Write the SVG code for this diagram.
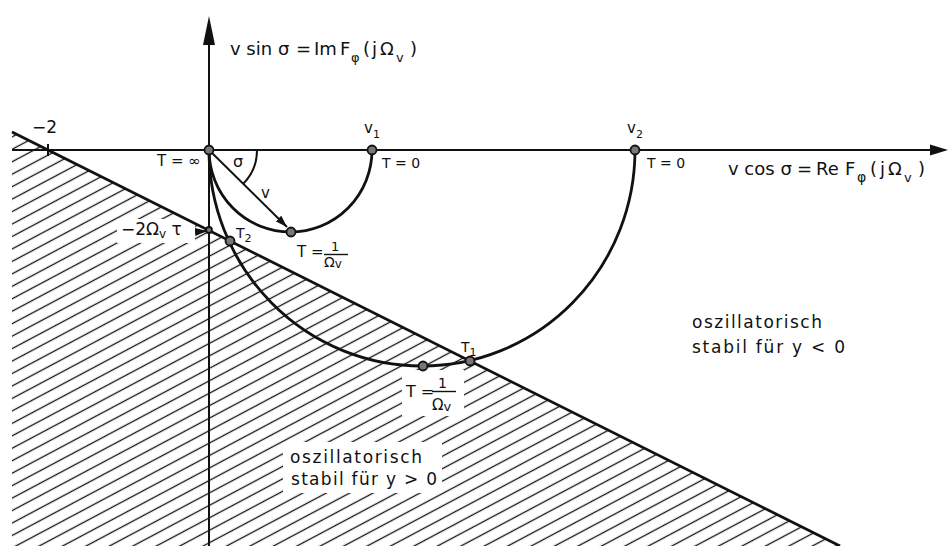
<svg xmlns="http://www.w3.org/2000/svg" width="949" height="546" viewBox="0 0 949 546">
<style>
.t{font-family:"DejaVu Sans","Liberation Sans",sans-serif;fill:#111}
.ax{stroke:#111;stroke-width:2;fill:none}
.cv{stroke:#111;stroke-width:2.8;fill:none}
.pt{fill:#777;stroke:#111;stroke-width:1.8}
.ko{fill:#fff;stroke:none}
</style>
<defs>
<pattern id="hatch" patternUnits="userSpaceOnUse" width="12" height="11" patternTransform="rotate(-28)">
<line x1="0" y1="5.5" x2="12" y2="5.5" stroke="#111" stroke-width="1.3"/>
</pattern>
<marker id="ah" viewBox="0 0 12 8" refX="12" refY="4" markerWidth="12" markerHeight="8" markerUnits="userSpaceOnUse" orient="auto">
<path d="M0,0 L12,4 L0,8 Z" fill="#111"/>
</marker>
</defs>
<rect width="949" height="546" fill="#fff"/>

<g id="unstable-region">
<polygon points="12,132 840,546 12,546" fill="url(#hatch)"/>
<rect class="ko" x="117" y="219" width="78" height="24"/>
<rect class="ko" x="402" y="370" width="62" height="46"/>
<rect class="ko" x="283" y="442" width="159" height="51"/>
</g>

<g id="axes">
<line class="ax" x1="12" y1="150" x2="934" y2="150"/>
<path d="M930,144.5 L948,150 L930,155.5 Z" fill="#111"/>
<line class="ax" x1="209" y1="546" x2="209" y2="40"/>
<path d="M203,45 L209,16 L215,45 Z" fill="#111"/>
<line class="ax" x1="48" y1="144" x2="48" y2="156"/>
</g>

<g id="connectors">
<line id="boundary" class="cv" x1="12" y1="132" x2="840" y2="546"/>
<path id="curve-v1" class="cv" d="M209,150 A81.5,82 0 0,0 372,150"/>
<path id="curve-v2" class="cv" d="M209,150 A213,216 0 0,0 635,150"/>
<line id="vector-v" x1="209" y1="150" x2="287" y2="227" stroke="#111" stroke-width="2" marker-end="url(#ah)"/>
<path id="angle-sigma" d="M257,150 A48,48 0 0,1 243,184" stroke="#111" stroke-width="2" fill="none"/>
<line id="arrow-2Ot" x1="195" y1="232" x2="207" y2="231" stroke="#111" stroke-width="1.8" marker-end="url(#ah)"/>
</g>

<g id="points">
<circle id="p-origin" class="pt" cx="209" cy="150" r="4.5"/>
<circle id="p-v1" class="pt" cx="372" cy="150" r="4.5"/>
<circle id="p-v2" class="pt" cx="635" cy="150" r="4.5"/>
<circle id="p-small-min" class="pt" cx="291" cy="232" r="4.5"/>
<circle id="p-T2" class="pt" cx="230" cy="241" r="4.5"/>
<circle id="p-T1" class="pt" cx="470" cy="361" r="4.5"/>
<circle id="p-big-min" class="pt" cx="423" cy="366" r="4.5"/>
<circle id="p-2Ot" class="pt" cx="209" cy="230" r="3"/>
</g>

<g id="label-imag-axis">
<text class="t" font-size="18"><tspan x="230" y="55">v sin σ</tspan><tspan x="296" y="55">=</tspan><tspan x="314" y="55">Im</tspan><tspan x="340" y="55">F</tspan><tspan x="351" y="62" font-size="13">φ</tspan><tspan x="363" y="55">(</tspan><tspan x="372" y="55">j</tspan><tspan x="380" y="55">Ω</tspan><tspan x="396" y="62" font-size="13">v</tspan><tspan x="410" y="55">)</tspan></text>
</g>
<g id="label-real-axis">
<text class="t" font-size="18"><tspan x="728" y="175">v cos σ</tspan><tspan x="797" y="175">=</tspan><tspan x="816" y="175">Re</tspan><tspan x="845" y="175">F</tspan><tspan x="857" y="182" font-size="14">φ</tspan><tspan x="870" y="175">(</tspan><tspan x="880" y="175">j</tspan><tspan x="888" y="175">Ω</tspan><tspan x="904" y="182" font-size="13">v</tspan><tspan x="918" y="175">)</tspan></text>
</g>
<g id="label-minus2"><text class="t" font-size="17" x="32" y="133">−2</text></g>
<g id="label-Tinf"><text class="t" font-size="15" x="157" y="166">T = ∞</text></g>
<g id="label-v1"><text class="t" font-size="15" x="364" y="133">v<tspan font-size="11" dy="5">1</tspan></text></g>
<g id="label-v1-T0"><text class="t" font-size="14" x="382" y="168">T = 0</text></g>
<g id="label-v2"><text class="t" font-size="15" x="627" y="133">v<tspan font-size="11" dy="5">2</tspan></text></g>
<g id="label-v2-T0"><text class="t" font-size="14" x="647" y="168">T = 0</text></g>
<g id="label-sigma"><text class="t" font-size="16" x="233" y="167">σ</text></g>
<g id="label-v"><text class="t" font-size="15" x="261" y="198">v</text></g>
<g id="label-T-small">
<text class="t" font-size="15" x="297" y="257">T =</text>
<text class="t" font-size="13" x="331" y="251">1</text>
<line x1="324" y1="254.5" x2="348" y2="254.5" stroke="#111" stroke-width="1.4"/>
<text class="t" font-size="14" x="324" y="267">Ω<tspan font-size="12" dy="1">v</tspan></text>
</g>
<g id="label-T-big">
<text class="t" font-size="16" x="406" y="397">T =</text>
<text class="t" font-size="14" x="438" y="388">1</text>
<line x1="432" y1="391.5" x2="456" y2="391.5" stroke="#111" stroke-width="1.4"/>
<text class="t" font-size="15" x="432" y="410">Ω<tspan font-size="13" dy="1">v</tspan></text>
</g>
<g id="label-2Ot"><text class="t" font-size="17" x="121" y="235">−2Ω<tspan font-size="12" dy="3">v</tspan><tspan dy="-3"> τ</tspan></text></g>
<g id="label-T2"><text class="t" font-size="14" x="236" y="238">T<tspan font-size="11" dy="4">2</tspan></text></g>
<g id="label-T1"><text class="t" font-size="14" x="461" y="352">T<tspan font-size="11" dy="4">1</tspan></text></g>
<g id="label-stable-neg">
<text class="t" font-size="17" x="692" y="328" textLength="130" lengthAdjust="spacing">oszillatorisch</text>
<text class="t" font-size="17" x="692" y="353" textLength="153" lengthAdjust="spacing">stabil für y &lt; 0</text>
</g>
<g id="label-stable-pos">
<text class="t" font-size="17" x="290" y="463" textLength="132" lengthAdjust="spacing">oszillatorisch</text>
<text class="t" font-size="17" x="291" y="485" textLength="146" lengthAdjust="spacing">stabil für y &gt; 0</text>
</g>
</svg>
